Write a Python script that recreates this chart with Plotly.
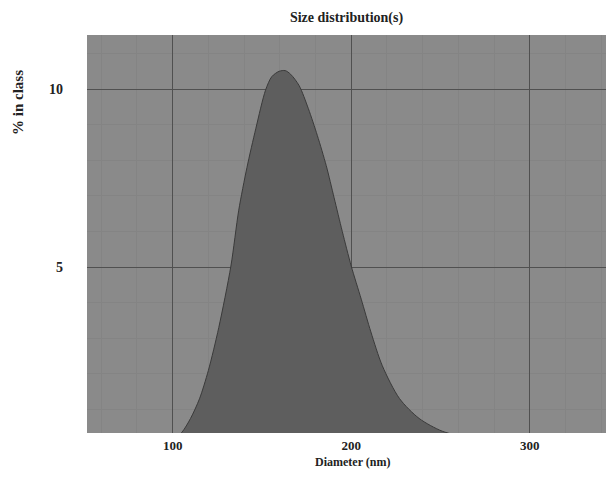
import plotly.graph_objects as go

# Data (Diameter in nm, % in class)
diameter = [98, 100, 105, 110, 115, 120, 125.8, 132.6, 137, 141.6, 146.6, 152, 155.5,
            159.6, 163, 166, 170.8, 176, 181, 186, 190.4, 195, 200, 205.6, 211,
            217.4, 227, 238, 251, 266, 276]
percent = [0.05, 0.15, 0.35, 0.75, 1.3, 2.1, 3.3, 5.03, 6.6, 7.8, 8.9, 9.97, 10.35,
           10.5, 10.52, 10.42, 10.1, 9.45, 8.7, 7.85, 6.95, 6.0, 5.03, 4.1, 3.18,
           2.23, 1.31, 0.75, 0.39, 0.2, 0.1]

x_ticks = [100, 200, 300]
y_ticks = [5, 10]

FONT = "Liberation Serif"
BG = "#8a8a8a"
GRID = "#505050"
MINOR = "#848484"

W, H = 598, 464          # page body adds an 8px margin around the figure
L, T, B = 79, 27, 39
PW = W - L
PH = H - T - B
BOTTOM = 8 + H - B       # page y of the plot's bottom edge

fig = go.Figure()
fig.add_trace(go.Scatter(
    x=diameter, y=percent, mode="lines",
    line=dict(color="#3a3a3a", width=1, shape="spline", smoothing=0.8),
    fill="tozeroy", fillcolor="#5e5e5e", hoverinfo="skip", showlegend=False,
))

fig.update_layout(
    width=W, height=H,
    margin=dict(l=L, r=0, t=T, b=B),
    paper_bgcolor="white",
    plot_bgcolor=BG,
    title=dict(text="<b>Size distribution(s)</b>", x=0.5, xref="paper",
               y=1 - 9 / H, yref="container", yanchor="middle",
               font=dict(family=FONT, size=14, color="#222")),
    font=dict(family=FONT, size=14, color="#222"),
)
fig.update_xaxes(
    range=[52, 342.7], tickvals=x_ticks, ticktext=[f"<b>{v}</b>" for v in x_ticks],
    showgrid=True, gridcolor=GRID, gridwidth=1, zeroline=False,
    ticks="", ticklabelstandoff=3, showline=False,
    minor=dict(dtick=20, showgrid=True, gridcolor=MINOR, gridwidth=1),
    tickfont=dict(family=FONT, size=13),
)
fig.update_yaxes(
    range=[0.34, 11.52], tickvals=y_ticks, ticktext=[f"<b>{v}</b>" for v in y_ticks],
    showgrid=True, gridcolor=GRID, gridwidth=1, zeroline=False,
    ticks="", ticklabelstandoff=23, showline=False,
    minor=dict(dtick=1, showgrid=True, gridcolor=MINOR, gridwidth=1),
    tickfont=dict(family=FONT, size=14),
)
fig.add_annotation(
    text="<b>% in class</b>", textangle=-90, showarrow=False,
    xref="paper", yref="paper", x=(18 - 87) / PW, y=(BOTTOM - 103) / PH,
    xanchor="center", yanchor="middle", font=dict(family=FONT, size=15, color="#222"),
)
fig.add_annotation(
    text="<b>Diameter (nm)</b>", showarrow=False,
    xref="paper", yref="paper", x=(352 - 87) / PW, y=-(462 - BOTTOM) / PH,
    xanchor="center", yanchor="middle", font=dict(family=FONT, size=12, color="#222"),
)

fig.write_html("out.html")
